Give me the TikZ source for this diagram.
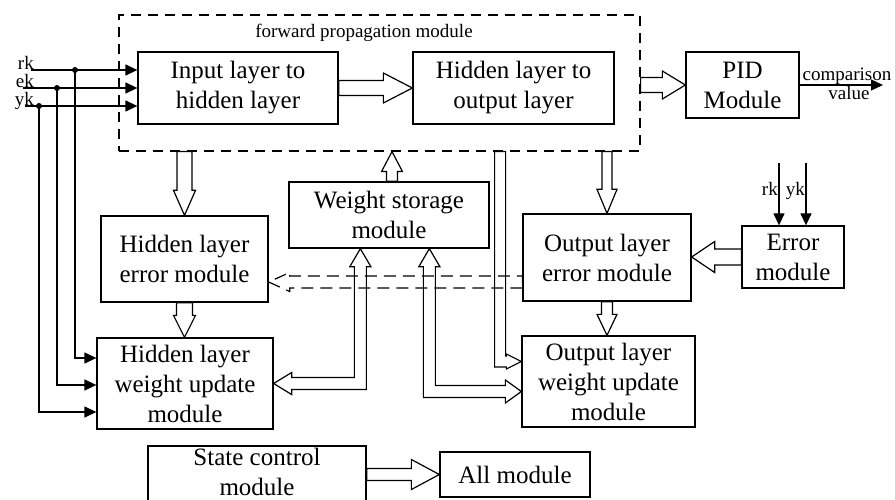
\documentclass[tikz,border=0pt]{standalone}
\usepackage{fontspec}
\setmainfont{Liberation Serif}
\usetikzlibrary{calc,arrows.meta}

% hollow block arrow: [style]{from}{to}{shaft half width}{head half width}{head length}
\newcommand{\blockarrow}[6][]{%
  \coordinate (bah) at ($(#3)!#6!(#2)$);
  \draw[blockarr,#1] ($(#2)!#4!90:(#3)$) -- ($(bah)!#4!90:(#3)$) -- ($(bah)!#5!90:(#3)$)
    -- (#3) -- ($(bah)!#5!-90:(#3)$) -- ($(bah)!#4!-90:(#3)$) -- ($(#2)!#4!-90:(#3)$) -- cycle;}

\tikzset{
  box/.style={draw, line width=1.3pt, align=center, inner sep=0pt,
              font=\fontsize{25}{30}\selectfont},
  small/.style={inner sep=0pt, font=\fontsize{19}{22}\selectfont},
  blockarr/.style={line width=1.2pt, line join=miter},
  sig/.style={line width=1.3pt, -{Triangle[length=12pt,width=11pt]}},
  wire/.style={line width=1.3pt},
  dashframe/.style={draw, line width=1.2pt, dash pattern=on 10pt off 7pt},
  dot/.style={circle, fill, inner sep=0pt, minimum size=6pt},
}

\begin{document}
\begin{tikzpicture}[x=1pt,y=-1pt]
\path[use as bounding box, clip] (0,0) rectangle (895,500);

% forward propagation frame
\node[dashframe, minimum width=521pt, minimum height=136pt] (fp) at (379.5,83) {};
\node[small, anchor=base] (fplab) at (364,38) {forward propagation module};

% modules
\node[box, minimum width=200pt, minimum height=72pt] (in)  at (238,88)    {Input layer to\\hidden layer};
\node[box, minimum width=201pt, minimum height=72pt] (ho)  at (513.5,88)  {Hidden layer to\\output layer};
\node[box, minimum width=113pt, minimum height=66pt] (pid) at (742.5,85)  {PID\\Module};
\node[box, minimum width=167pt, minimum height=86pt] (hem) at (184.5,259) {Hidden layer\\error module};
\node[box, minimum width=176pt, minimum height=91pt] (hwu) at (185,383.5) {Hidden layer\\weight update\\module};
\node[box, minimum width=200pt, minimum height=66pt] (ws)  at (389,215)   {Weight storage\\module};
\node[box, minimum width=168pt, minimum height=87pt] (oem) at (607,257.5) {Output layer\\error module};
\node[box, minimum width=173pt, minimum height=91pt] (owu) at (608.5,381.5) {Output layer\\weight update\\module};
\node[box, minimum width=102pt, minimum height=62pt] (err) at (793,257)   {Error\\module};
\node[box, minimum width=218pt, minimum height=64pt, text depth=12pt] (sc) at (257,478) {State control\\module};
\node[box, minimum width=150pt, minimum height=45pt] (all) at (515,474.5) {All module};

% straight block arrows
\blockarrow{in.east}{ho.west}{7.5pt}{15pt}{29pt}
\coordinate (fpR) at (fp.east |- pid.west);
\blockarrow{fpR}{pid.west}{7.5pt}{14pt}{23pt}
\coordinate (fpH) at (hem.north |- fp.south);
\blockarrow{fpH}{hem.north}{7.5pt}{11pt}{25pt}
\coordinate (hemW) at (hem.south |- hwu.north);
\blockarrow{hem.south}{hemW}{8pt}{11pt}{22pt}
\coordinate (wsT) at ($(ws.north)+(3,0)$);
\coordinate (fpW) at (wsT |- fp.south);
\blockarrow{wsT}{fpW}{5.5pt}{10.5pt}{20pt}
\coordinate (fpO) at (oem.north |- fp.south);
\blockarrow{fpO}{oem.north}{5pt}{10pt}{24pt}
\coordinate (oemW) at (oem.south |- owu.north);
\blockarrow{oem.south}{oemW}{5.5pt}{10pt}{21pt}
\coordinate (errO) at (oem.east |- err.west);
\blockarrow{err.west}{errO}{8pt}{15.5pt}{23pt}
\coordinate (scA) at (sc.east |- all.west);
\blockarrow{scA}{all.west}{6pt}{15pt}{28pt}

% dashed block arrow from output error to hidden error
\coordinate (dA) at ($(oem.west)+(0,24.5)$);
\coordinate (dB) at (hem.east |- dA);
\blockarrow[dash pattern=on 12pt off 7pt]{dA}{dB}{6pt}{9.5pt}{21pt}

% weight storage <-> hidden layer weight update
\coordinate (a1) at ($(ws.south west)+(72,0)$);
\coordinate (a2) at (hwu.east);
\coordinate (ac) at (a1 |- a2);
\draw[blockarr] (a1) -- ++(10.5,18) -- ++(-4.5,0) -- ($(ac)+(6,6)$) -- ($(a2)+(18,6)$)
  -- ++(0,5) -- (a2) -- ($(a2)+(18,-11)$) -- ++(0,5) -- ($(ac)+(-6,-6)$)
  -- ($(a1)+(-6,18)$) -- ++(-4.5,0) -- cycle;

% weight storage <-> output layer weight update
\coordinate (b1) at ($(ws.south west)+(141,0)$);
\coordinate (b2) at ($(owu.west)+(0,10)$);
\coordinate (bc) at (b1 |- b2);
\draw[blockarr] (b1) -- ++(10.5,18) -- ++(-4.5,0) -- ($(bc)+(6,-6)$) -- ($(b2)+(-16,-6)$)
  -- ++(0,-5.5) -- (b2) -- ($(b2)+(-16,11.5)$) -- ++(0,-5.5) -- ($(bc)+(-6,6)$)
  -- ($(b1)+(-6,18)$) -- ++(-4.5,0) -- cycle;

% forward propagation -> output layer weight update
\coordinate (c1) at ($(fp.south east)+(-140.5,0)$);
\coordinate (c2) at ($(owu.west)+(0,-20)$);
\coordinate (cc) at (c1 |- c2);
\draw[blockarr] ($(c1)+(-5.5,0)$) -- ($(cc)+(-5.5,5.5)$) -- ($(c2)+(-15,5.5)$) -- ++(0,2)
  -- (c2) -- ($(c2)+(-15,-7.5)$) -- ++(0,2) -- ($(cc)+(5.5,-5.5)$) -- ($(c1)+(5.5,0)$) -- cycle;

% input signals
\node[small, anchor=base east] (lrk) at (34,70)  {rk};
\node[small, anchor=base east] (lek) at (34,88)  {ek};
\node[small, anchor=base east] (lyk) at (34,106) {yk};
\coordinate (rkS) at (31,70);
\coordinate (ekS) at (23,88);
\coordinate (ykS) at (25,106);
\draw[sig] (rkS) -- (rkS -| in.west);
\draw[sig] (ekS) -- (ekS -| in.west);
\draw[sig] (ykS) -- (ykS -| in.west);
\node[dot] (rkD) at (75,70) {};
\node[dot] (ekD) at (57,88) {};
\node[dot] (ykD) at (39,106) {};
\draw[sig] (rkD.center) |- ($(hwu.west)+(0,-25.5)$);
\draw[sig] (ekD.center) |- ($(hwu.west)+(0,1.5)$);
\draw[sig] (ykD.center) |- ($(hwu.west)+(0,28.5)$);

% error module inputs
\coordinate (erkS) at (779,163);
\coordinate (eykS) at (806,163);
\draw[sig] (erkS) -- (erkS |- err.north);
\draw[sig] (eykS) -- (eykS |- err.north);
\node[small, anchor=base east] (lerk) at (778,196) {rk};
\node[small, anchor=base east] (leyk) at (805,196) {yk};

% PID output
\coordinate (outE) at (883,85);
\draw[sig] (pid.east) -- (outE);
\node[small, anchor=base] (lcmp) at (847,81) {comparison};
\node[small, anchor=base] (lval) at (849,100) {value};
\end{tikzpicture}
\end{document}
